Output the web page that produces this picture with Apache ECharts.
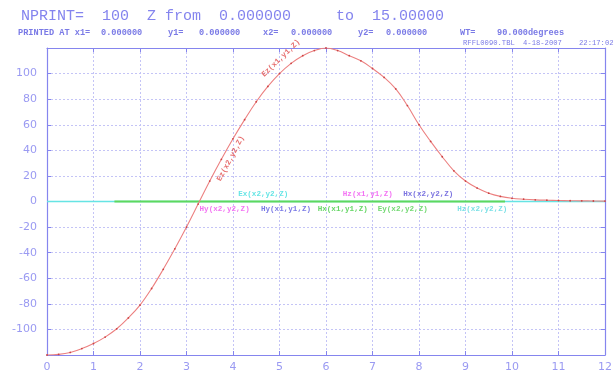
<!DOCTYPE html>
<html>
<head>
<meta charset="utf-8">
<script src="https://cdn.jsdelivr.net/npm/echarts@6/dist/echarts.min.js"></script>
<style>
  html, body { margin: 0; padding: 0; background: #ffffff; }
  #chart { width: 615px; height: 377px; }
</style>
</head>
<body>
<div id="chart"></div>
<script>
// Longitudinal position Z (x axis) and field component Ez(x1,y1,Z)
const zPositions = [
  0, 0.25, 0.5, 0.75, 1, 1.25, 1.5, 1.75, 2, 2.25, 2.5, 2.75,
  3, 3.25, 3.5, 3.75, 4, 4.25, 4.5, 4.75, 5, 5.25, 5.5, 5.75,
  6, 6.25, 6.5, 6.75, 7, 7.25, 7.5, 7.75, 8, 8.25, 8.5, 8.75,
  9, 9.25, 9.5, 9.75, 10, 10.25, 10.5, 10.75, 11, 11.25, 11.5, 11.75, 12
];
const ezValues = [
  -120, -119.5, -118, -115, -111, -106, -99.5, -91, -81, -68, -53, -37,
  -20, -2, 16, 33, 49, 64, 78, 90, 100, 108, 114, 118,
  120, 118, 114, 110, 104, 97, 88, 75, 60, 47, 35, 24,
  16, 10.5, 6.5, 4, 2.5, 1.8, 1.3, 1, 0.8, 0.6, 0.5, 0.4, 0.3
];

// Transverse components that stay at zero over the printed range
const exStart = 0, exEnd = 12, exValue = 0;
const hxStart = 1.45, hxEnd = 9.85, hxValue = 0;

// Axis ranges and tick step
const xMin = 0, xMax = 12, xStep = 1;
const yMin = -120, yMax = 120, yStep = 20;

// Component name tags, placed at (Z, value)
const tagNames  = ['Ex(x2,y2,Z)', 'Hz(x1,y1,Z)', 'Hx(x2,y2,Z)', 'Hy(x2,y2,Z)', 'Hy(x1,y1,Z)', 'Hx(x1,y1,Z)', 'Ey(x2,y2,Z)', 'Hz(x2,y2,Z)', 'Ez(x1,y1,Z)', 'Ez(x2,y2,Z)'];
const tagZ      = [4.65, 6.9, 8.2, 3.82, 5.14, 6.36, 7.65, 9.36, 5.03, 3.95];
const tagValue  = [5.5, 5.5, 5.5, -5.8, -5.8, -5.8, -5.8, -5.8, 112, 33.6];
const tagColors = ['#3fdede', '#f050f0', '#5a50d8', '#f050f0', '#5a5ae0', '#40cc40', '#50d050', '#5ad8e0', '#e04848', '#e04848'];
const tagAngles = [0, 0, 0, 0, 0, 0, 0, 0, 44, 62];

// Header text
const headerLine = 'NPRINT=  100  Z from  0.000000     to  15.00000';
const printedParts = [
  ['PRINTED AT x1=', 18], ['0.000000', 101], ['y1=', 168], ['0.000000', 199],
  ['x2=', 263], ['0.000000', 291], ['y2=', 358], ['0.000000', 386],
  ['WT=', 460], ['90.000degrees', 497]
];
const stampParts = [['RFFL0090.TBL', 463], ['4-18-2007', 523], ['22:17:02', 579]];

const axisBlue = '#8585ee';
const labelBlue = '#9a9af2';
const gridBlue = '#c4c4f6';
const mono = '"Liberation Mono", "DejaVu Sans Mono", monospace';

const pair = (xs, ys) => xs.map((x, i) => [x, ys[i]]);

const graphics = [];
graphics.push({
  type: 'text', left: 21, top: 9,
  style: { text: headerLine, font: '15px ' + mono, fill: '#8484ee' }
});
printedParts.forEach(([t, x]) => graphics.push({
  type: 'text', left: x, top: 28,
  style: { text: t, font: 'bold 8.6px ' + mono, fill: '#7a7ae6' }
}));
stampParts.forEach(([t, x]) => graphics.push({
  type: 'text', left: x, top: 40,
  style: { text: t, font: '7.2px ' + mono, fill: '#7a7ae6' }
}));

const baseX = {
  type: 'value', min: xMin, max: xMax, interval: xStep,
  axisLine: { show: true, onZero: false, lineStyle: { color: axisBlue, width: 1.2 } },
  axisTick: { show: true, inside: true, length: 4, lineStyle: { color: axisBlue } },
  splitLine: { show: false }
};
const baseY = {
  type: 'value', min: yMin, max: yMax, interval: yStep,
  axisLine: { show: true, onZero: false, lineStyle: { color: axisBlue, width: 1.2 } },
  axisTick: { show: true, inside: true, length: 4, lineStyle: { color: axisBlue } },
  splitLine: { show: false }
};

const option = {
  animation: false,
  backgroundColor: '#ffffff',
  grid: { left: 47, right: 4, top: 48, bottom: 22, containLabel: false },
  graphic: graphics,
  xAxis: [
    Object.assign({}, baseX, {
      position: 'bottom',
      splitLine: { show: true, lineStyle: { color: gridBlue, type: [2, 2], width: 1 } },
      axisLabel: { color: labelBlue, fontFamily: 'DejaVu Sans', fontSize: 11, margin: 7 }
    }),
    Object.assign({}, baseX, { position: 'top', axisLabel: { show: false } })
  ],
  yAxis: [
    Object.assign({}, baseY, {
      position: 'left',
      splitLine: { show: true, lineStyle: { color: gridBlue, type: [2, 2], width: 1 } },
      axisLabel: {
        color: labelBlue, fontFamily: 'DejaVu Sans', fontSize: 11, margin: 10,
        formatter: v => (v === yMin || v === yMax) ? '' : String(v)
      }
    }),
    Object.assign({}, baseY, { position: 'right', axisLabel: { show: false } })
  ],
  series: [
    {
      name: 'Ex', type: 'line', xAxisIndex: 0, yAxisIndex: 0,
      data: [[exStart, exValue], [exEnd, exValue]],
      symbol: 'none', lineStyle: { color: '#66e4e4', width: 1.6 }
    },
    {
      name: 'Hx', type: 'line', xAxisIndex: 0, yAxisIndex: 0,
      data: [[hxStart, hxValue], [hxEnd, hxValue]],
      symbol: 'none', lineStyle: { color: '#5ed85e', width: 2 }
    },
    {
      name: 'Ez', type: 'line', xAxisIndex: 0, yAxisIndex: 0,
      data: pair(zPositions, ezValues),
      smooth: 0.4,
      symbol: 'circle', symbolSize: 1.8, showSymbol: true,
      itemStyle: { color: '#cc4444' },
      lineStyle: { color: '#ec8080', width: 1.1 }
    },
    {
      name: 'tags', type: 'scatter', xAxisIndex: 0, yAxisIndex: 0,
      symbolSize: 0, silent: true,
      data: tagNames.map((n, i) => ({
        name: n, value: [tagZ[i], tagValue[i]],
        label: { color: tagColors[i], rotate: tagAngles[i] }
      })),
      label: {
        show: true, position: 'inside', formatter: p => p.name,
        fontFamily: mono, fontSize: 7.6, fontWeight: 'bold'
      }
    }
  ]
};

const chart = echarts.init(document.getElementById('chart'), null, { renderer: 'canvas' });
chart.setOption(option);
</script>
</body>
</html>
